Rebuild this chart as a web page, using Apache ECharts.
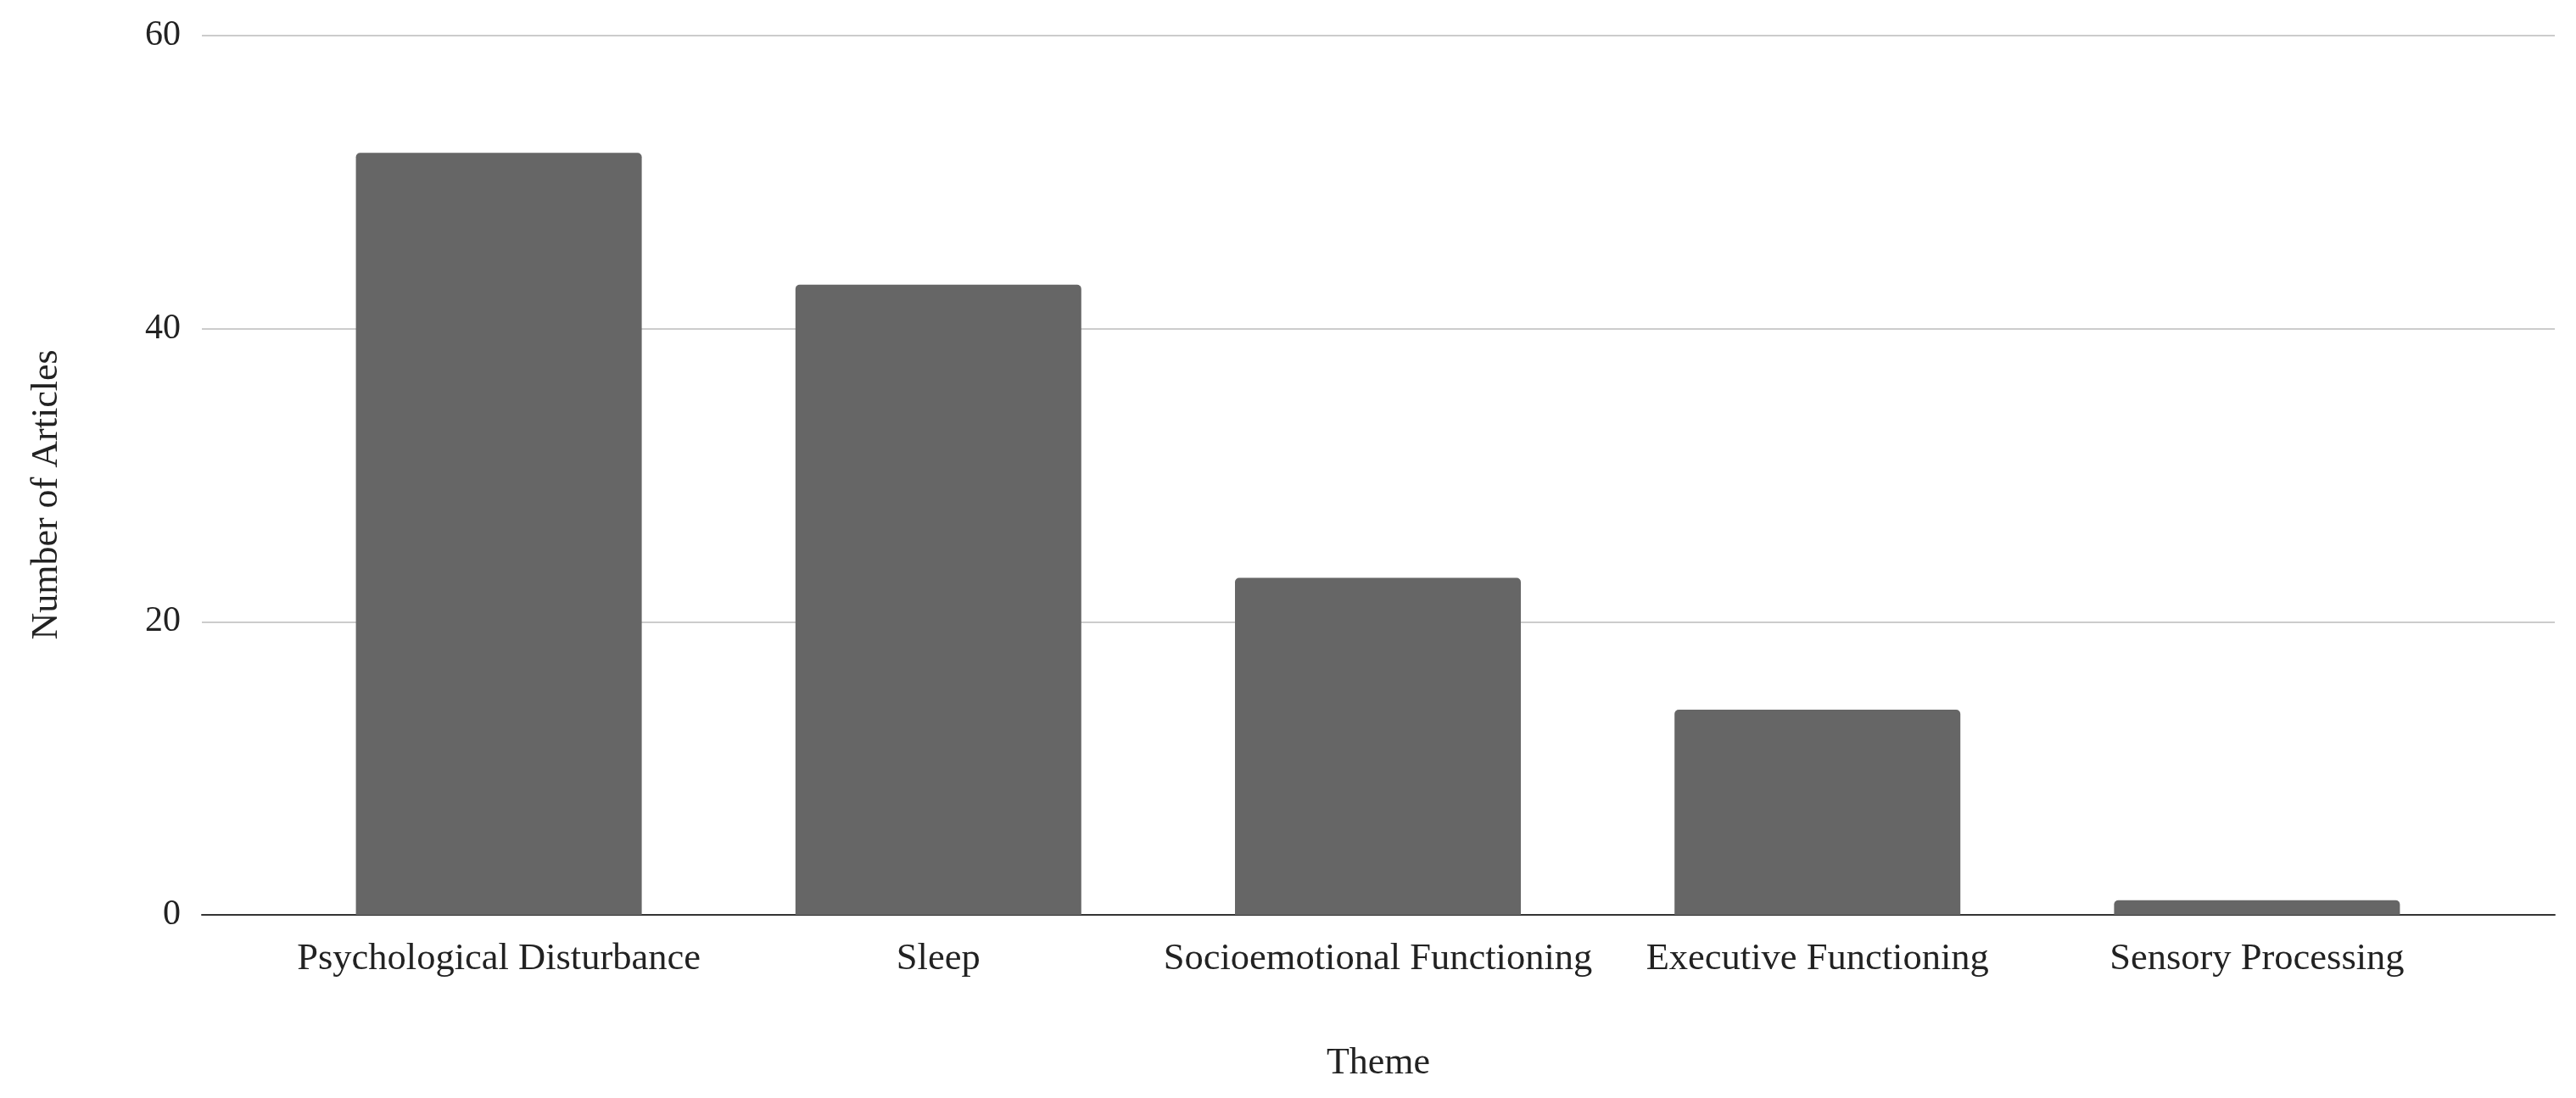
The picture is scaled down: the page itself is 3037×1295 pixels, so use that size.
<!DOCTYPE html>
<html>
<head>
<meta charset="utf-8">
<script src="https://cdn.jsdelivr.net/npm/echarts@6/dist/echarts.min.js"></script>
<style>
html,body{margin:0;padding:0;background:#fff;}
#chart{width:3037px;height:1295px;}
</style>
</head>
<body>
<div id="chart"></div>
<script>
const categories = ['Psychological Disturbance', 'Sleep', 'Socioemotional Functioning', 'Executive Functioning', 'Sensory Processing'];
const articleCounts = [52, 43, 23, 14, 1];
const yTicks = [0, 20, 40, 60];
const xAxisTitle = 'Theme';
const yAxisTitle = 'Number of Articles';

const FONT = '"Liberation Serif", "Times New Roman", serif';
const TEXT = '#222222';

const chart = echarts.init(document.getElementById('chart'), null, {renderer: 'canvas'});
chart.setOption({
  backgroundColor: '#ffffff',
  animation: false,
  grid: [
    {left: 238, right: 25, top: 42, bottom: 216},
    {left: 329, right: 117, top: 42, bottom: 216}
  ],
  xAxis: [
    {
      gridIndex: 0, type: 'value', min: 0, max: 1,
      axisLine: {show: true, onZero: false, lineStyle: {color: '#333333', width: 2}},
      axisTick: {show: false}, axisLabel: {show: false}, splitLine: {show: false},
      name: xAxisTitle, nameLocation: 'middle', nameGap: 153,
      nameTextStyle: {fontFamily: FONT, fontSize: 44, color: TEXT}
    },
    {
      gridIndex: 1, type: 'category', data: categories,
      axisLine: {show: false}, axisTick: {show: false},
      axisLabel: {fontFamily: FONT, fontSize: 44.5, color: TEXT, margin: 30, interval: 0}
    }
  ],
  yAxis: [
    {
      gridIndex: 0, type: 'value', min: yTicks[0], max: yTicks[yTicks.length - 1], interval: 20,
      axisLine: {show: false}, axisTick: {show: false},
      axisLabel: {fontFamily: FONT, fontSize: 42, color: TEXT, margin: 25},
      splitLine: {show: true, lineStyle: {color: '#cccccc', width: 2}},
      name: yAxisTitle, nameLocation: 'middle', nameGap: 161,
      nameTextStyle: {fontFamily: FONT, fontSize: 44, color: TEXT, padding: [0, 46, 0, 0]}
    },
    {
      gridIndex: 1, type: 'value', min: yTicks[0], max: yTicks[yTicks.length - 1],
      show: false, splitLine: {show: false}
    }
  ],
  series: [{
    type: 'bar',
    xAxisIndex: 1, yAxisIndex: 1,
    data: articleCounts,
    barWidth: 337,
    itemStyle: {color: '#666666', borderRadius: [5, 5, 0, 0]},
    z: 1
  }]
});
</script>
</body>
</html>
